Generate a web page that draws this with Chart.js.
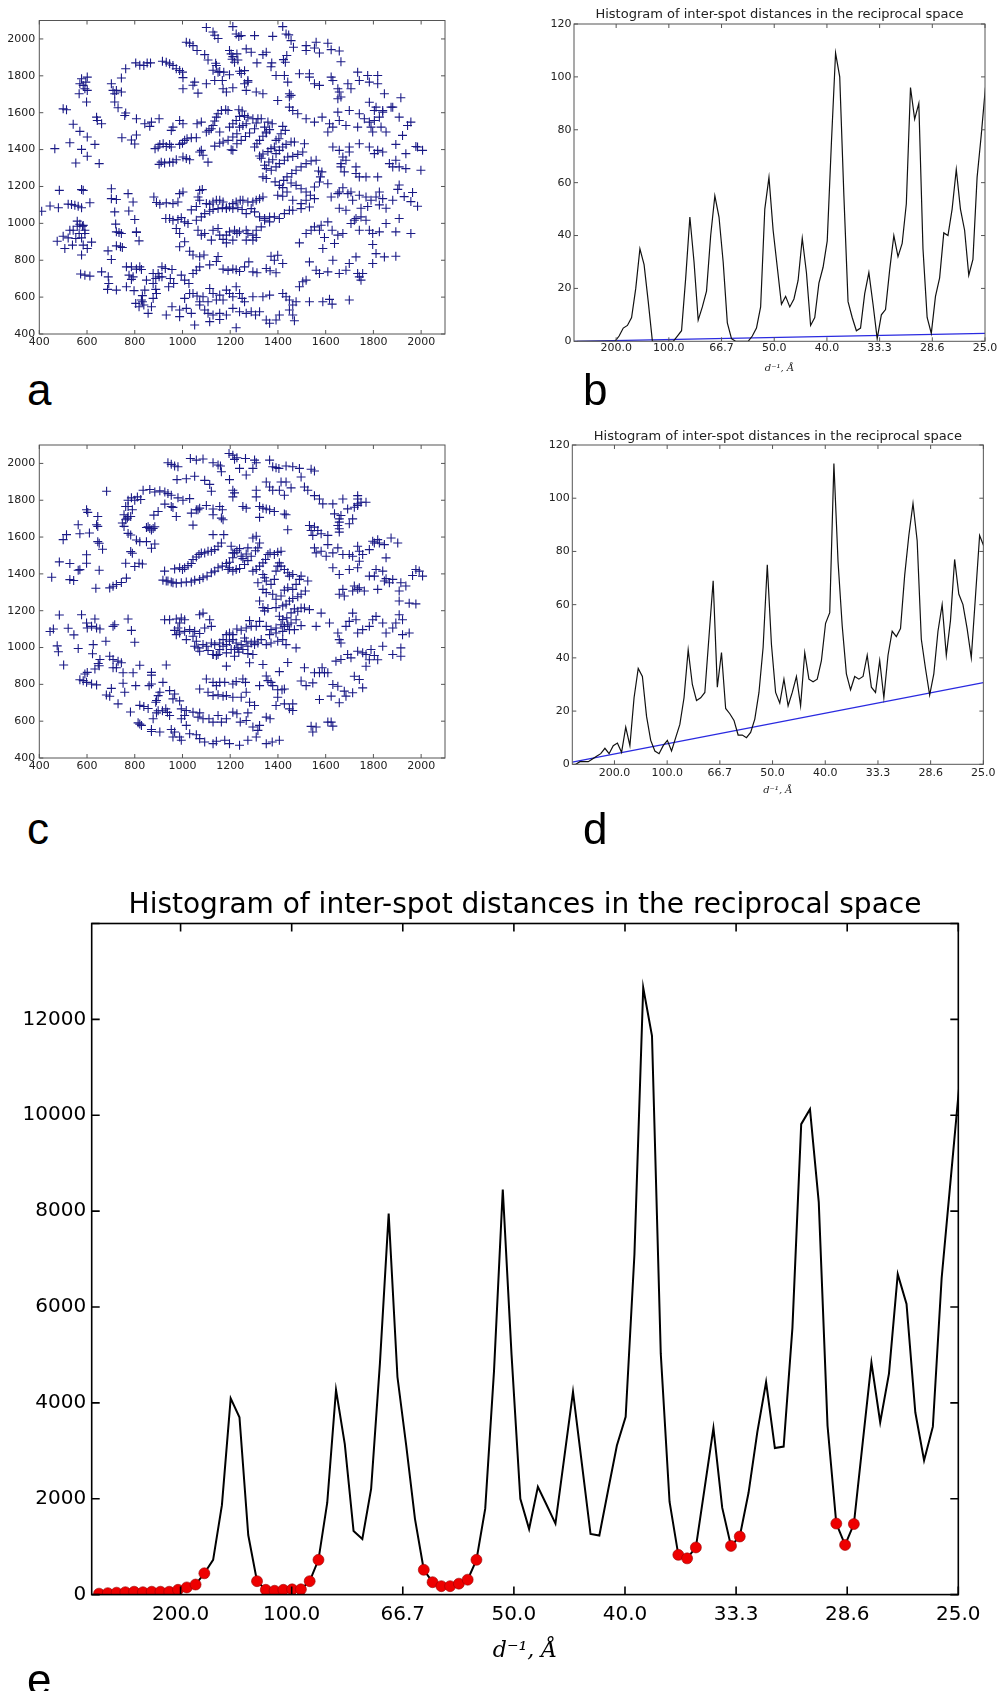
<!DOCTYPE html>
<html><head><meta charset="utf-8">
<script src="https://cdn.jsdelivr.net/npm/chart.js@4.4.1/dist/chart.umd.min.js"></script>
<style>
html,body{margin:0;padding:0;background:#fff;}
#wrap{position:relative;width:998px;height:1691px;overflow:hidden;background:#fff;}
canvas{position:absolute;}
.lbl{position:absolute;font-family:'Liberation Sans',Arial,sans-serif;font-size:44px;line-height:44px;color:#000;}
</style></head><body>
<div id="wrap">
<canvas id="ca" width="470" height="365" style="left:0;top:0;width:470px;height:365px"></canvas>
<canvas id="cb" width="458" height="380" style="left:540px;top:0;width:458px;height:380px"></canvas>
<canvas id="cc" width="470" height="365" style="left:0;top:424px;width:470px;height:365px"></canvas>
<canvas id="cd" width="458" height="380" style="left:540px;top:421px;width:458px;height:380px"></canvas>
<canvas id="ce" width="998" height="821" style="left:0;top:870px;width:998px;height:821px"></canvas>
<div class="lbl" style="left:27px;top:368px">a</div>
<div class="lbl" style="left:583px;top:368px">b</div>
<div class="lbl" style="left:27px;top:807px">c</div>
<div class="lbl" style="left:583px;top:807px">d</div>
<div class="lbl" style="left:27px;top:1658px">e</div>
</div>
<script>
// ---------------- DATA ----------------
const histTitle = 'Histogram of inter-spot distances in the reciprocal space';
const xAxisLabel = 'd\u207B\u00B9, \u00C5';
const xTickVals = [0.005, 0.01, 0.015, 0.02, 0.025, 0.03, 0.035, 0.04];
const xTickLabels = ['200.0', '100.0', '66.7', '50.0', '40.0', '33.3', '28.6', '25.0'];
const binStart = 0.00133, binWidth = 0.000395;

// panel b histogram counts
const histB = [0,0,0,0,0,0,0,0,0,0, 2,5,6,9,20,35,29,15,0, 0,0,0,0, 0,2,4,24,47,30,8,13,19,40,55,47,30,7,1,0,
  0,0,0,2,5,13,50,62, 42,28,14,17,13,16,23,39,26,6,9,22,28,38,75,109,100,55,15,9,4,5,18,26,14,1,10,12,27,40,32,37,52,96,84,90,35,9,3,17,24,41,40,50,65,50,42,25,31,62,78,96];
const baseB = [[0.001, 0.0], [0.04, 3.0]];

// panel d histogram counts
const histD = [0,1,1,1,2,3,4,6,4,7,8,4.5,14,7,25,36,33,18,9,5,4,7,9,5,10,15,25,43,30,24,25,27,48,69,29,42,21,19,16.5,11,11,10,12,17,27,44,75,45,27,23,32,22,27,33,22,42,32,31,32,39,53,57,113,76,52,34,28,33,32,33,41,29,27,39,25,41,50,48,51,71,86,98,84,47,36,26,34,50,60,41,54,77,64,60,51,40,63,86,82];
const baseD = [[0.001, 0.8], [0.04, 30.7]];

// panel e summed histogram and selected minima (indices)
const histE = [20,30,40,50,60,50,60,60,60,100,150,210,445, 725,1865,4093,3700,1243, 280,100,80,100,110,110,280,725,
  1917,4270,3140,1326,1160,2207,4819,7948,4539,3109,1575, 518,259,176,176,228,311,725,
  1793,4663,8450,5000,2000,1368,2249,1870,1482,2850,4228,2746,1264,1233,2176,3109,3710,7099,12664,11658,5026,1938,
  829,756,984, 2228,3472,1813, 1016,1212, 2124,3389,4435,3057,3088,5565,9814,10125,8187,3523, 1482,1036,1472,
  3160,4840,3596,4611,6684,6062,3803,2798,3503,6600,8600,10600];
const minIdxE = [0,1,2,3,4,5,6,7,8,9,10,11,12, 18,19,20,21,22,23,24,25, 37,38,39,40,41,42,43, 66,67,68, 72,73, 84,85,86];

// panel a spot positions (x,y pairs)
const spotsA = [1100,2062,1128,2038,1135,2020,1149,2002,1211,2067,1225,2027,1236,2013,1246,2018,1302,2018,1378,2014,
1420,2067,1434,2027,1445,2022,1455,1991,1465,1955,1016,1982,1030,1977,1044,1964,1061,1937,
1093,1915,1107,1886,1139,1868,1149,1820,1156,1823,1197,1937,1204,1919,1211,1904,1218,1874,1208,1890,1228,1919,1232,1886,
1267,1946,1288,1928,1312,1870,1337,1915,1351,1928,1374,1870,1371,1849,1423,1888,1431,1874,1437,1910,
1518,1964,1518,1937,1553,1951,1574,1924,1609,1977,1623,1942,1657,1935,1664,1876,1560,1982,
804,1870,821,1858,838,1856,852,1870,866,1870,762,1838,744,1788,702,1757,709,1721,716,1703,723,1721,744,1712,716,1658,730,1627,758,1585,762,1598,
746,1464,786,1452,800,1430,807,1479,807,1567,842,1540,863,1526,870,1549,902,1567,
916,1879,932,1874,946,1865,960,1856,974,1838,988,1829,1000,1820,1002,1790,1044,1749,1051,1766,1065,1706,1002,1730,
577,1784,584,1748,591,1730,601,1793,595,1766,567,1703,598,1658,601,1721,570,1757,500,1621,514,1616,
542,1537,528,1437,570,1499,577,1401,553,1327,601,1468,601,1364,633,1428,651,1324,640,1576,643,1558,661,1540,465,1405,
410,1066,445,1094,480,1085,484,1179,521,1104,535,1102,549,1098,563,1093,577,1085,577,1183,584,1179,612,1112,
475,903,500,930,521,921,528,963,542,963,559,984,567,945,581,984,591,963,507,864,539,882,553,918,577,921,584,882,601,864,619,898,577,828,591,945,
573,725,591,719,612,714,559,1012,570,995,584,989,
702,1188,702,1134,723,1129,716,1062,720,996,723,954,734,951,744,945,723,878,740,873,748,869,688,851,702,804,
772,1161,793,1116,775,1067,800,1021,807,954,818,905,807,950,765,764,786,764,776,719,793,710,807,752,821,764,828,750,
661,737,689,710,686,642,691,674,723,638,765,656,786,696,797,635,804,566,818,548,832,608,828,584,838,557,856,512,
877,728,888,701,877,674,888,642,891,620,898,728,902,710,
885,1405,898,1414,905,1428,919,1432,932,1417,946,1428,953,1414,902,1320,911,1332,925,1327,946,1332,960,1332,974,1345,
988,1428,1000,1435,1009,1450,1019,1459,1037,1464,1058,1464,1002,1360,1016,1351,1030,1345,1072,1387,1079,1396,1086,1369,1107,1332,
1100,1495,1111,1504,1121,1513,1128,1531,1135,1555,1142,1576,1149,1594,1163,1612,1181,1616,1191,1612,
1135,1419,1156,1434,1170,1441,1191,1450,1211,1468,1228,1486,1239,1522,1253,1531,1267,1540,1236,1616,1250,1609,
1204,1399,1211,1396,1228,1432,1246,1450,1264,1471,1281,1490,1302,1513,1316,1567,1309,1544,
1302,1414,1312,1432,1323,1450,1337,1472,1351,1490,1365,1508,1376,1540,
1323,1365,1330,1353,1337,1376,1358,1389,1371,1405,1385,1414,1392,1450,1404,1459,1413,1486,1420,1526,1431,1504,
1344,1315,1351,1297,1362,1333,1378,1345,1392,1378,1406,1396,1420,1414,1434,1428,1455,1441,1469,1441,
1337,1252,1351,1243,1372,1288,1392,1306,1406,1324,1427,1342,1441,1360,1462,1363,1483,1374,1504,1387,1511,1432,
1388,1225,1406,1206,1424,1233,1438,1252,1458,1270,1476,1288,1497,1306,1518,1324,1539,1338,1560,1342,1570,1284,
1420,1194,1438,1170,1455,1219,1476,1206,1497,1188,1518,1170,1536,1152,1553,1134,1574,1224,1578,1252,1584,1279,1553,1197,
1497,1107,1518,1125,1532,1089,1497,1080,1462,1125,1420,1147,1399,1152,
988,1161,1002,1170,981,1116,960,1107,932,1111,905,1104,891,1113,880,1143,
930,1026,946,1026,960,1017,981,1021,995,1031,1009,1008,1023,999,974,972,988,945,
1037,1073,1058,1091,1072,1125,1072,1179,1083,1183,1065,1143,1100,1107,1114,1104,1128,1116,1142,1125,1156,1125,1170,1116,1184,1085,1197,1089,1211,1107,1225,1116,1242,1125,1253,1125,1274,1116,1295,1116,1309,1125,1323,1134,1337,1143,
1058,1017,1079,1035,1093,1053,1114,1066,1128,1075,1149,1080,1167,1085,1184,1080,1211,1080,1232,1085,1250,1075,1267,1053,1288,1080,1302,1062,1323,1035,1344,1026,1365,1035,1385,1035,1406,1026,1427,1053,1448,1071,1462,1071,
1065,963,1079,936,1093,945,1128,963,1149,972,1156,936,1170,913,1184,936,1197,954,1218,963,1239,954,1267,963,1274,945,1295,936,1309,963,1330,981,1344,1017,1365,1008,
1121,909,1184,894,1211,909,1228,945,1267,909,1295,909,1309,923,
988,873,1009,900,1030,849,1044,828,1072,819,1090,828,
1114,775,1142,793,1149,820,1170,752,1191,745,1211,752,1225,748,1239,739,1260,764,1278,791,1295,737,1312,732,1351,755,1367,743,1392,732,1420,782,
1371,822,1385,800,1399,827,914,764,928,755,956,750,949,701,963,674,914,710,942,656,
995,719,1009,692,1027,674,1044,728,1058,746,1072,764,
1009,593,1030,620,1044,620,1061,606,1072,575,1086,602,1107,575,1114,647,1128,620,1142,584,1156,611,1170,584,1184,638,1197,620,1211,602,1225,656,1239,620,1250,593,1260,575,
956,548,988,530,1016,539,1037,512,1072,557,1093,530,1107,512,1128,503,1156,512,1184,503,1211,539,1239,521,1267,512,1288,521,1306,503,1323,521,
932,503,988,494,1051,449,1114,467,1156,479,1225,434,1351,476,1365,458,1392,476,1406,503,
1295,602,1337,602,1365,611,1420,620,1434,602,1448,584,1462,557,1476,575,1462,503,1448,530,1469,472,1490,656,1504,683,1518,692,
849,692,842,638,832,575,877,593,870,548,
1532,791,1560,746,1574,728,1609,737,1630,800,1657,728,1685,746,1699,782,1727,818,1734,728,1741,710,
1532,575,1588,575,1616,588,1627,562,1699,584,1748,692,1755,728,1797,782,1811,836,1846,818,1894,822,1797,885,
1490,894,1518,945,1539,963,1553,981,1574,963,1581,990,1588,864,1595,923,1609,1008,1627,963,1637,891,1651,936,1672,945,1706,999,1720,1017,1727,1026,1741,963,1748,1035,1769,1017,1783,963,1797,945,1825,954,1853,999,1894,954,1908,1026,1957,945,
1609,1215,1623,1143,1651,1161,1657,1170,1672,1193,1693,1161,1706,1170,1713,1125,1741,1152,1769,1143,1790,1125,1811,1143,1825,1170,1839,1134,1881,1125,1902,1184,1908,1208,1929,1145,1957,1118,1964,1167,1985,1093,
1657,1082,1685,1071,1748,1082,1776,1091,1825,1100,1853,1082,
1672,1360,1685,1342,1664,1324,1664,1306,1678,1279,1699,1387,1727,1270,1741,1252,1769,1252,1818,1252,1727,1306,
1630,1414,1657,1396,1699,1414,1741,1432,1783,1414,1804,1378,1818,1396,1839,1387,1867,1324,1881,1306,1894,1342,1908,1306,1936,1297,1985,1414,2006,1396,1999,1288,1936,1378,1894,1428,
1518,1567,1553,1549,1585,1576,1609,1495,1616,1540,1630,1522,1651,1603,1657,1558,1685,1531,1699,1612,1734,1522,1741,1594,1762,1567,1783,1549,1790,1522,1804,1558,1825,1576,1839,1612,1853,1495,1881,1630,1908,1576,1922,1477,1943,1531,1957,1549,1978,1417,
1797,1495,1832,1522,1804,1612,1783,1657,1811,1630,1839,1603,
1490,1811,1532,1811,1532,1793,1553,1757,1574,1748,1623,1793,1630,1775,1651,1730,1657,1712,1664,1685,1651,1676,1693,1757,1706,1730,1734,1820,1741,1775,1776,1802,1783,1766,1818,1802,1818,1757,1846,1703,1874,1630,1915,1681,
1167,1775,1170,1730,1184,1712,1211,1735,1260,1757,1267,1721,1274,1775,1309,1712,1337,1703,1392,1802,1399,1666,1427,1802,1441,1766,1448,1703,1455,1694,1448,1630,1462,1612,1483,1594,1448,1685,
1100,1757,1128,1830,1135,1775,1142,1856,1173,1820,1197,1806,1239,1825,1246,1813,1260,1828,1274,1766,
988,1558,1002,1540,960,1522,953,1504,1061,1540,1079,1549,
1156,1495,1197,1522,1211,1540,1225,1558,1239,1580,1260,1585,1274,1576,1295,1567,1330,1567,1344,1522,1351,1495,1358,1549];

// panel c spot positions (x,y pairs)
const spotsC = [939,2004,953,1995,967,1986,981,1982,1033,2027,1058,2018,1086,2024,1128,2004,1149,1991,1159,1986,
1195,2054,1211,2045,1218,2022,1228,2031,1264,2027,1302,2018,1309,2004,
1365,2018,1378,1982,1392,1977,1404,1973,1434,1986,1462,1982,1490,1973,1539,1968,1553,1959,
977,1912,1016,1917,1051,1930,1093,1908,1114,1886,1121,1849,1163,1955,1197,1912,1239,1973,1267,1937,1295,1973,
1211,1854,1218,1840,1211,1818,1309,1854,1309,1818,1351,1899,1365,1872,1378,1854,1406,1854,1413,1899,1434,1899,1427,1827,1455,1867,1497,1926,1511,1872,1525,1854,
682,1849,772,1800,786,1813,835,1854,863,1858,884,1845,905,1851,926,1845,939,1836,953,1827,981,1813,1002,1800,1030,1809,
926,1779,953,1766,960,1761,974,1712,1037,1730,1058,1748,1072,1757,1100,1771,1128,1752,1156,1766,1167,1748,1163,1703,
1044,1665,1065,1748,1128,1721,1170,1694,1253,1766,1267,1757,1323,1766,1337,1757,1351,1752,1365,1748,1385,1739,1323,1707,1427,1725,1434,1721,1441,1640,
755,1721,762,1694,769,1703,772,1712,783,1712,790,1748,755,1658,748,1676,772,1620,783,1611,772,1766,762,1766,
800,1800,811,1818,825,1804,
807,1584,821,1575,849,1575,870,1539,884,1562,870,1638,877,1647,884,1656,849,1652,856,1656,880,1719,898,1739,863,1647,
783,1521,790,1512,762,1458,800,1440,818,1458,832,1454,
598,1748,603,1734,645,1712,610,1622,645,1658,640,1667,563,1667,570,1618,514,1613,500,1586,598,1504,598,1458,645,1575,651,1566,665,1534,563,1420,570,1423,528,1456,484,1465,651,1420,637,1322,544,1364,528,1369,452,1382,
459,1101,445,1087,484,1177,521,1105,545,1069,475,1009,480,977,502,905,563,995,
577,1178,598,1133,601,1106,619,1115,640,1106,654,1101,633,1155,679,1034,626,1016,623,966,647,913,654,935,
570,825,584,820,598,811,619,802,640,797,591,856,601,865,633,883,651,901,
695,953,709,935,730,926,744,917,709,890,723,890,751,863,751,806,758,757,702,778,695,735,681,742,730,694,793,863,804,793,821,904,
716,1124,709,1115,772,1155,786,1093,800,1029,765,1377,744,1353,723,1342,709,1333,695,1324,
782,650,821,686,838,680,856,669,860,793,870,802,898,739,888,703,870,865,870,850,891,712,
821,584,814,591,828,577,870,555,877,613,891,645,898,657,916,657,937,648,930,667,946,631,
932,905,918,811,946,766,905,757,960,721,967,748,988,710,995,667,1016,658,1009,631,995,613,1016,577,953,555,967,541,988,514,
870,544,905,541,960,514,995,496,1030,532,1058,526,1072,505,1093,487,1128,478,1142,491,1177,496,1197,478,1239,469,1274,496,1309,514,1316,550,1351,478,1376,487,1406,496,
1044,649,1065,622,1072,645,1086,613,1111,613,1128,595,1149,631,1163,595,1184,613,1211,649,1228,640,1242,595,1267,604,1274,645,1295,568,1323,577,1351,622,1367,613,1392,685,1399,771,1417,771,1427,694,1448,667,1462,694,1441,919,1406,869,1358,820,1323,793,1378,793,
1072,775,1107,757,1128,739,1149,743,1170,735,1184,739,1211,730,1246,730,1267,757,1302,685,
1100,829,1128,811,1142,793,1156,811,1177,811,1211,802,1225,815,1253,829,1264,811,1281,703,
1399,730,1427,775,1462,658,1337,908,1351,845,1371,811,
925,1415,939,1361,953,1356,967,1427,988,1433,1000,1424,1009,1433,1023,1445,1037,1456,1044,1478,1058,1492,1069,1505,1079,1514,1093,1514,1107,1523,1121,1523,1135,1532,1149,1550,1163,1568,1173,1613,1128,1613,
918,1366,932,1361,960,1352,974,1349,995,1352,1016,1356,1037,1356,1051,1366,1072,1370,1086,1379,1103,1388,1121,1406,1135,1415,1149,1433,1167,1442,1184,1456,1197,1463,
1191,1424,1197,1433,1211,1415,1225,1424,1239,1429,1260,1451,1274,1472,1288,1496,1306,1526,1316,1541,1323,1568,1295,1595,1309,1604,
1211,1488,1218,1514,1228,1526,1239,1537,1246,1496,1253,1483,1267,1508,1274,1541,1211,1514,1204,1550,
1295,1415,1309,1424,1323,1442,1337,1460,1348,1478,1358,1505,1367,1514,1385,1505,1399,1517,1413,1523,
1337,1397,1344,1379,1351,1361,1371,1343,1385,1370,1392,1415,1399,1442,1406,1460,1413,1442,1427,1424,1441,1406,1448,1388,1462,1397,
1316,1352,1337,1316,1351,1298,1378,1289,1392,1262,1413,1280,1427,1312,1441,1325,1462,1316,1476,1343,1490,1370,1497,1388,
1323,1253,1337,1217,1344,1199,1358,1212,1392,1217,1420,1226,1434,1235,1448,1253,1462,1266,1483,1276,1497,1289,1515,1307,1525,1361,
1406,1170,1420,1152,1437,1161,1455,1188,1469,1210,1483,1197,1497,1215,1511,1215,1532,1206,
1351,1115,1371,1097,1392,1106,1413,1124,1427,1115,1441,1124,1455,1133,1476,1151,1497,1119,
1365,1070,1392,1079,1420,1088,1448,1097,1469,1097,
1302,1034,1330,1043,1351,1016,1371,1025,1399,1034,1420,1043,1434,1016,1476,998,
925,1151,946,1151,974,1155,995,1160,1009,1151,988,1133,981,1106,967,1093,974,1070,988,1079,1009,1088,1030,1097,1051,1088,1072,1076,1093,1106,1114,1151,1121,1115,1072,1178,1086,1187,
1016,1043,1044,1061,1051,1007,1058,1034,1065,998,1086,1016,1100,1007,1121,1025,1135,1016,1156,1025,1170,1043,1184,1070,1197,1079,1211,1070,1228,1101,1246,1094,1267,1106,1288,1115,1309,1115,1323,1142,1281,1146,
1072,980,1107,984,1128,962,1142,957,1156,989,1170,1007,1184,1016,1197,1034,1211,1043,1225,1025,1232,998,1246,1016,1260,1052,1267,1034,1274,1007,1288,1025,1302,1016,1316,1025,
1184,971,1204,989,1218,989,1236,975,1253,989,1274,967,1295,962,1281,917,1149,962,1128,962,1184,899,1218,953,
1497,818,1511,890,1553,863,1574,863,1585,890,1595,863,1609,863,1643,926,1664,935,1692,962,1706,944,1734,980,1755,971,1769,962,1790,989,1804,957,1839,1007,1881,962,1915,998,1915,953,
1518,793,1546,808,1574,718,1623,736,1630,799,1651,790,1685,736,1713,754,1720,844,1741,826,1755,781,1769,898,1783,934,1818,934,
1623,595,1630,573,1609,595,1560,568,1546,541,1539,572,1657,700,1678,763,
1560,1115,1581,1187,1616,1133,1651,1079,1657,1043,1664,1025,1685,1115,1699,1142,1713,1187,1727,1151,1734,1079,1755,1097,1783,1115,1797,1151,1811,1169,1839,1133,1853,1079,1881,1106,1894,1133,1908,1178,1922,1151,1950,1241,1978,1237,1922,1070,1950,1079,
1657,1289,1678,1280,1672,1316,1713,1307,1720,1334,1734,1316,1741,1325,1762,1307,1804,1388,1811,1424,1839,1415,1853,1374,1846,1361,1867,1352,1881,1370,1908,1307,1915,1352,1908,1253,1936,1334,1978,1424,1992,1415,2006,1388,1964,1391,1818,1316,1783,1388,
1553,1541,1560,1514,1581,1523,1602,1496,1609,1559,1630,1514,1651,1541,1672,1505,1699,1505,1713,1496,1734,1550,1741,1523,1755,1505,1783,1532,1797,1577,1818,1586,1825,1568,1846,1559,1874,1595,1902,1568,1853,1487,1630,1433,1657,1397,1699,1424,1734,1433,1741,1469,
1532,1663,1553,1654,1567,1636,1581,1618,1539,1636,1546,1609,1609,1609,1651,1663,1657,1645,1657,1627,1657,1681,1657,1699,1664,1717,1699,1672,1713,1699,1720,1762,1734,1780,1748,1789,1769,1789,1692,1753,1672,1807,1630,1780,1637,1726,1588,1780,1553,1825,
1734,1825,1734,1807,1734,1771,1804,1568,1574,1807];

// ---------------- RENDERING ----------------
const SANS = "'DejaVu Sans', sans-serif";
Chart.defaults.font.family = SANS;

const framePlugin = {
  id: 'frame',
  defaults: { color: '#000', width: 1, len: 5 },
  afterDatasetsDraw(chart, args, o) {
    const { ctx, chartArea: a } = chart;
    const xs = chart.scales.x, ys = chart.scales.y;
    ctx.save();
    ctx.strokeStyle = o.color;
    ctx.lineWidth = o.width;
    ctx.beginPath();
    xs.ticks.forEach(t => {
      const p = xs.getPixelForValue(t.value);
      ctx.moveTo(p, a.bottom); ctx.lineTo(p, a.bottom - o.len);
      ctx.moveTo(p, a.top); ctx.lineTo(p, a.top + o.len);
    });
    ys.ticks.forEach(t => {
      const p = ys.getPixelForValue(t.value);
      ctx.moveTo(a.left, p); ctx.lineTo(a.left + o.len, p);
      ctx.moveTo(a.right, p); ctx.lineTo(a.right - o.len, p);
    });
    ctx.stroke();
    ctx.strokeRect(a.left, a.top, a.right - a.left, a.bottom - a.top);
    ctx.restore();
  }
};
Chart.register(framePlugin);

function pairs(flat) {
  const out = [];
  for (let i = 0; i < flat.length; i += 2) out.push({ x: flat[i], y: flat[i + 1] });
  return out;
}
function binPoints(vals) {
  return vals.map((v, i) => ({ x: binStart + i * binWidth, y: v }));
}
function basePoints(arr) { return arr.map(p => ({ x: p[0], y: p[1] })); }

function scatterChart(id, spots, g) {
  return new Chart(document.getElementById(id), {
    type: 'scatter',
    data: { datasets: [{
      data: pairs(spots), pointStyle: 'cross', pointRadius: 4.5, pointBorderWidth: 1.1,
      borderColor: '#1a1a86', backgroundColor: '#1a1a86'
    }] },
    options: {
      responsive: false, animation: false, devicePixelRatio: 1,
      layout: { padding: { top: g.top, right: g.right, left: 0, bottom: 0 } },
      plugins: { legend: { display: false }, tooltip: { enabled: false },
        frame: { color: '#555', width: 1, len: 4 } },
      scales: {
        x: { type: 'linear', min: 400, max: 2100,
          grid: { display: false, drawTicks: false }, border: { display: false },
          ticks: { stepSize: 200, includeBounds: false, color: '#222', font: { size: 11 }, padding: 1.5,
            maxRotation: 0, autoSkip: false, callback: v => String(v) },
          afterFit: s => { s.height = g.xh; } },
        y: { type: 'linear', min: 400, max: 2100,
          grid: { display: false, drawTicks: false }, border: { display: false },
          ticks: { stepSize: 200, includeBounds: false, color: '#222', font: { size: 11 }, padding: 4,
            autoSkip: false, callback: v => String(v) },
          afterFit: s => { s.width = g.yw; } }
      }
    }
  });
}

function histChart(id, vals, base, g) {
  return new Chart(document.getElementById(id), {
    type: 'scatter',
    data: { datasets: [
      { data: binPoints(vals), showLine: true, borderColor: '#111', borderWidth: 1.2, pointRadius: 0, tension: 0, order: 0 },
      { data: basePoints(base), showLine: true, borderColor: '#2a2ae0', borderWidth: 1.2, pointRadius: 0, tension: 0, order: 1 }
    ] },
    options: {
      responsive: false, animation: false, devicePixelRatio: 1,
      layout: { padding: { top: 0, right: g.right, left: 0, bottom: 0 } },
      plugins: { legend: { display: false }, tooltip: { enabled: false },
        title: { display: true, text: histTitle, fullSize: false, color: '#222',
          font: { size: 13, weight: 'normal' }, padding: { top: g.tt, bottom: g.tb } },
        frame: { color: '#555', width: 1, len: 4 } },
      scales: {
        x: { type: 'linear', min: 0.001, max: 0.04,
          grid: { display: false, drawTicks: false }, border: { display: false },
          afterBuildTicks: s => { s.ticks = xTickVals.map(v => ({ value: v })); },
          ticks: { color: '#222', font: { size: 11 }, padding: g.xp, maxRotation: 0, autoSkip: false,
            callback: (v, i) => xTickLabels[i] },
          title: { display: true, text: xAxisLabel, color: '#222',
            font: { family: "'DejaVu Serif', serif", size: 10, style: 'italic' }, padding: { top: 0, bottom: g.lb } },
          afterFit: s => { s.height = g.xh; } },
        y: { type: 'linear', min: 0, max: 120,
          grid: { display: false, drawTicks: false }, border: { display: false },
          ticks: { stepSize: 20, color: '#222', font: { size: 11 }, padding: 2.5, autoSkip: false, callback: v => String(v) },
          afterFit: s => { s.width = g.yw; } }
      }
    }
  });
}

scatterChart('ca', spotsA, { top: 20.5, right: 25, xh: 31, yw: 39.3 });
scatterChart('cc', spotsC, { top: 21, right: 25, xh: 31, yw: 39.3 });
histChart('cb', histB, baseB, { right: 13, tt: 7, tb: 1.4, xh: 38.7, yw: 34, xp: 0.5, lb: 6 });
histChart('cd', histD, baseD, { right: 13, tt: 7.9, tb: 0.5, xh: 36.7, yw: 32.3, xp: 2.4, lb: 5 });

new Chart(document.getElementById('ce'), {
  type: 'scatter',
  data: { datasets: [
    { data: minIdxE.map(i => ({ x: binStart + i * binWidth, y: histE[i] })), pointRadius: 5.5,
      backgroundColor: '#ee0000', borderColor: '#990000', borderWidth: 0.6, order: 0 },
    { data: binPoints(histE), showLine: true, borderColor: '#000', borderWidth: 2, pointRadius: 0, tension: 0, order: 1 }
  ] },
  options: {
    responsive: false, animation: false, devicePixelRatio: 1,
    layout: { padding: { top: 0, right: 39.7, left: 0, bottom: 0 } },
    plugins: { legend: { display: false }, tooltip: { enabled: false },
      title: { display: true, text: histTitle, fullSize: false, color: '#000',
        font: { size: 28, weight: 'normal' }, padding: { top: 19.2, bottom: 0.7 } },
      frame: { color: '#000', width: 1.6, len: 8 } },
    scales: {
      x: { type: 'linear', min: 0.001, max: 0.04,
        grid: { display: false, drawTicks: false }, border: { display: false },
        afterBuildTicks: s => { s.ticks = xTickVals.map(v => ({ value: v })); },
        ticks: { color: '#000', font: { size: 20 }, padding: 8.4, maxRotation: 0, autoSkip: false,
          callback: (v, i) => xTickLabels[i] },
        title: { display: true, text: xAxisLabel, color: '#000',
          font: { family: "'DejaVu Serif', serif", size: 22, style: 'italic' }, padding: { top: 0, bottom: 27 } },
        afterFit: s => { s.height = 96.4; } },
      y: { type: 'linear', min: 0, max: 14000,
        grid: { display: false, drawTicks: false }, border: { display: false },
        ticks: { stepSize: 2000, color: '#000', font: { size: 20 }, padding: 5.5, autoSkip: false,
          callback: v => (v === 14000 ? '' : String(v)) },
        afterFit: s => { s.width = 91.7; } }
    }
  }
});
</script>
</body></html>
